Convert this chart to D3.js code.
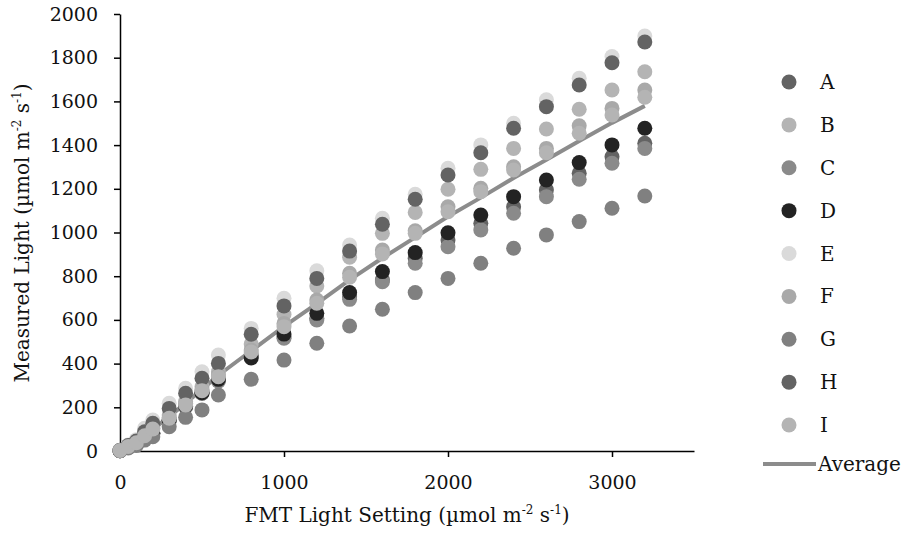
<!DOCTYPE html>
<html>
<head>
<meta charset="utf-8">
<script src="https://cdn.jsdelivr.net/npm/d3@7"></script>
<style>
  body { margin: 0; background: #fff; }
  svg text { font-family: "DejaVu Serif", serif; fill: #111; }
</style>
</head>
<body>
<div id="chart"></div>
<script>

// FMT light settings (x)
var settings = [0, 50, 100, 150, 200, 300, 400, 500, 600, 800, 1000, 1200, 1400, 1600, 1800, 2000, 2200, 2400, 2600, 2800, 3000, 3200];

// measured light per sensor
var seriesA = [1, 18, 32, 60, 82, 142, 203, 264, 325, 435, 523, 607, 706, 783, 882, 966, 1042, 1118, 1195, 1271, 1347, 1408];
var seriesB = [2, 22, 40, 73, 111, 165, 226, 294, 363, 490, 625, 755, 887, 996, 1092, 1198, 1289, 1385, 1474, 1564, 1652, 1736];
var seriesC = [1, 17, 30, 58, 78, 139, 203, 264, 320, 440, 516, 600, 694, 775, 859, 935, 1012, 1088, 1164, 1244, 1317, 1385];
var seriesD = [1, 18, 32, 58, 81, 142, 206, 267, 328, 426, 535, 630, 725, 821, 908, 999, 1080, 1164, 1240, 1320, 1401, 1477];
var seriesE = [3, 27, 52, 104, 142, 218, 287, 363, 439, 561, 699, 825, 943, 1065, 1175, 1294, 1401, 1500, 1607, 1706, 1805, 1899];
var seriesF = [2, 22, 40, 73, 104, 154, 218, 282, 348, 462, 584, 691, 813, 920, 1008, 1118, 1202, 1301, 1385, 1488, 1568, 1652];
var seriesG = [1, 14, 25, 50, 65, 111, 154, 188, 256, 328, 416, 493, 572, 649, 725, 790, 859, 928, 989, 1050, 1111, 1167];
var seriesH = [3, 25, 46, 88, 127, 195, 264, 333, 401, 534, 664, 790, 915, 1038, 1152, 1263, 1365, 1477, 1576, 1675, 1777, 1872];
var seriesI = [2, 21, 38, 70, 101, 150, 211, 276, 340, 453, 569, 676, 795, 902, 996, 1095, 1187, 1286, 1365, 1454, 1538, 1619];

var names = ["A", "B", "C", "D", "E", "F", "G", "H", "I"];
var colors = ["#636363", "#b4b4b4", "#8a8a8a", "#232323", "#dadada", "#a9a9a9", "#808080", "#636363", "#b4b4b4"];

var xTicks = [0, 1000, 2000, 3000];
var yTicks = [0, 200, 400, 600, 800, 1000, 1200, 1400, 1600, 1800, 2000];

var allSeries = [seriesA, seriesB, seriesC, seriesD, seriesE, seriesF, seriesG, seriesH, seriesI];

// average of all sensors at each setting
var average = settings.map(function(s, i) {
  return d3.mean(allSeries, function(arr) { return arr[i]; });
});

var width = 908, height = 534;

var svg = d3.select("#chart").append("svg")
    .attr("width", width)
    .attr("height", height);

var x = d3.scaleLinear().domain([0, 3500]).range([120, 694]);
var y = d3.scaleLinear().domain([0, 2000]).range([451, 14]);

// axes
var xAxis = svg.append("g")
    .attr("transform", "translate(0," + y(0) + ")")
    .call(d3.axisBottom(x).tickValues(xTicks).tickFormat(d3.format("d"))
      .tickSize(6).tickSizeOuter(0).tickPadding(19));

var yAxis = svg.append("g")
    .attr("transform", "translate(" + x(0) + ",0)")
    .call(d3.axisLeft(y).tickValues(yTicks).tickFormat(d3.format("d"))
      .tickSize(6).tickSizeOuter(0).tickPadding(16));

svg.selectAll(".domain, .tick line")
    .attr("stroke", "#000")
    .attr("stroke-width", 1.5);
svg.selectAll(".tick text")
    .style("font-family", "'DejaVu Serif', serif")
    .style("font-size", "19px")
    .attr("fill", "#111");
xAxis.selectAll(".tick").filter(function(d) { return d === 0; }).select("line").remove();

// average line
var line = d3.line()
    .x(function(d, i) { return x(settings[i]); })
    .y(function(d) { return y(d); });

svg.append("path")
    .datum(average)
    .attr("fill", "none")
    .attr("stroke", "#8c8c8c")
    .attr("stroke-width", 4)
    .attr("d", line);

// points
allSeries.forEach(function(arr, k) {
  svg.append("g").selectAll("circle")
      .data(arr)
    .enter().append("circle")
      .attr("cx", function(d, i) { return x(settings[i]); })
      .attr("cy", function(d) { return y(d); })
      .attr("r", 7.5)
      .attr("fill", colors[k]);
});

// axis titles
function unitTitle(sel, label) {
  sel.append("tspan").text(label + " (µmol m");
  sel.append("tspan").attr("dy", -8).style("font-size", "12px").text("-2");
  sel.append("tspan").attr("dy", 8).text(" s");
  sel.append("tspan").attr("dy", -8).style("font-size", "12px").text("-1");
  sel.append("tspan").attr("dy", 8).text(")");
}

var xt = svg.append("text")
    .attr("x", 407)
    .attr("y", 522)
    .attr("text-anchor", "middle")
    .style("font-size", "20px");
unitTitle(xt, "FMT Light Setting");

var yt = svg.append("text")
    .attr("transform", "translate(29,233) rotate(-90)")
    .attr("text-anchor", "middle")
    .style("font-size", "20px");
unitTitle(yt, "Measured Light");

// legend
var legend = svg.append("g");
var rowY = d3.scalePoint().domain(names).range([82, 425]);

names.forEach(function(n, k) {
  legend.append("circle")
      .attr("cx", 789)
      .attr("cy", rowY(n))
      .attr("r", 7.5)
      .attr("fill", colors[k]);
  legend.append("text")
      .attr("x", 820)
      .attr("y", rowY(n))
      .attr("dy", "0.35em")
      .style("font-size", "20px")
      .text(n);
});

legend.append("line")
    .attr("x1", 763).attr("x2", 816)
    .attr("y1", 464).attr("y2", 464)
    .attr("stroke", "#8c8c8c")
    .attr("stroke-width", 4);
legend.append("text")
    .attr("x", 818)
    .attr("y", 464)
    .attr("dy", "0.35em")
    .style("font-size", "20px")
    .text("Average");

</script>
</body>
</html>
